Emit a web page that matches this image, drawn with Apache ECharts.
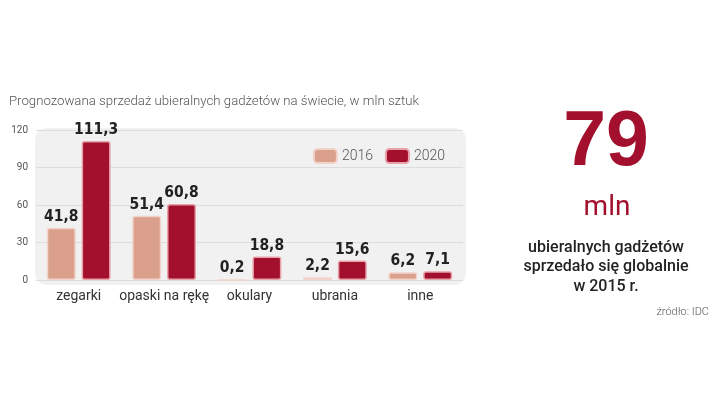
<!DOCTYPE html>
<html><head><meta charset="utf-8">
<script src="https://cdn.jsdelivr.net/npm/echarts@6/dist/echarts.min.js"></script>
<style>html,body{margin:0;padding:0;background:#fff}#c{width:720px;height:405px}</style>
</head><body><div id="c"></div>
<script>
const categories = ['zegarki', 'opaski na rękę', 'okulary', 'ubrania', 'inne'];
const values2016 = [41.8, 51.4, 0.2, 2.2, 6.2];
const values2020 = [111.3, 60.8, 18.8, 15.6, 7.1];
const yTicks = [0, 30, 60, 90, 120];
const seriesNames = ['2016', '2020'];

const chart = echarts.init(document.getElementById('c'));
const fmt = p => String(p.value).replace('.', ',');
const labelStyle = {show: true, position: 'top', distance: 3, formatter: fmt,
  fontFamily: 'DejaVu Sans Condensed', fontWeight: 'bold', fontSize: 15.5, color: '#222'};

chart.setOption({
  animation: false,
  title: [
    {text: 'Prognozowana sprzedaż ubieralnych gadżetów na świecie, w mln sztuk', left: 4, top: 90,
     textStyle: {fontFamily: 'Roboto', fontWeight: 300, fontSize: 13.2, color: '#555'}},
    {text: '79', left: 601, top: 100, textAlign: 'center',
     textStyle: {fontFamily: 'Liberation Sans', fontWeight: 'bold', fontSize: 77, color: '#A3102D'}},
    {text: 'mln', left: 602, top: 189, textAlign: 'center',
     textStyle: {fontFamily: 'Roboto', fontWeight: 400, fontSize: 28, color: '#A3102D'}},
    {text: 'ubieralnych gadżetów\nsprzedało się globalnie\nw 2015 r.', left: 601, top: 233, textAlign: 'center',
     textStyle: {fontFamily: 'Roboto', fontWeight: 500, fontSize: 16, lineHeight: 19.5, color: '#222', align: 'center'}},
    {text: 'źródło: IDC', right: 6, top: 302,
     textStyle: {fontFamily: 'Roboto', fontWeight: 300, fontSize: 11, color: '#555'}}
  ],
  graphic: [{type: 'rect', z: -10, shape: {x: 35, y: 128, width: 431, height: 157, r: 12},
    style: {fill: '#F1F1F1'}}],
  legend: {right: 270, top: 143, itemWidth: 23, itemHeight: 14, itemGap: 12,
    textStyle: {fontFamily: 'Roboto', fontWeight: 300, fontSize: 14, color: '#555'},
    data: seriesNames},
  grid: {left: 36, right: 257, top: 130, bottom: 125},
  xAxis: {type: 'category', data: categories,
    axisLine: {show: false}, axisTick: {show: false},
    axisLabel: {interval: 0, margin: 9, fontFamily: 'Roboto', fontSize: 14, color: '#333'}},
  yAxis: {type: 'value', min: 0, max: 120, interval: 30,
    axisLabel: {margin: 8, fontFamily: 'Roboto', fontSize: 10, color: '#555',
      formatter: v => yTicks.includes(v) ? String(v) : ''},
    splitLine: {lineStyle: {color: '#DCDCDC', width: 1}}},
  series: [
    {name: seriesNames[0], type: 'bar', data: values2016, barWidth: 29, barGap: '20%',
     itemStyle: {color: '#DBA08B', borderColor: '#F2D3CA', borderWidth: 1.5, borderRadius: 2},
     label: labelStyle},
    {name: seriesNames[1], type: 'bar', data: values2020, barWidth: 29,
     itemStyle: {color: '#A3102D', borderColor: '#E8A2AA', borderWidth: 1.5, borderRadius: 2},
     label: labelStyle}
  ]
});
</script></body></html>
